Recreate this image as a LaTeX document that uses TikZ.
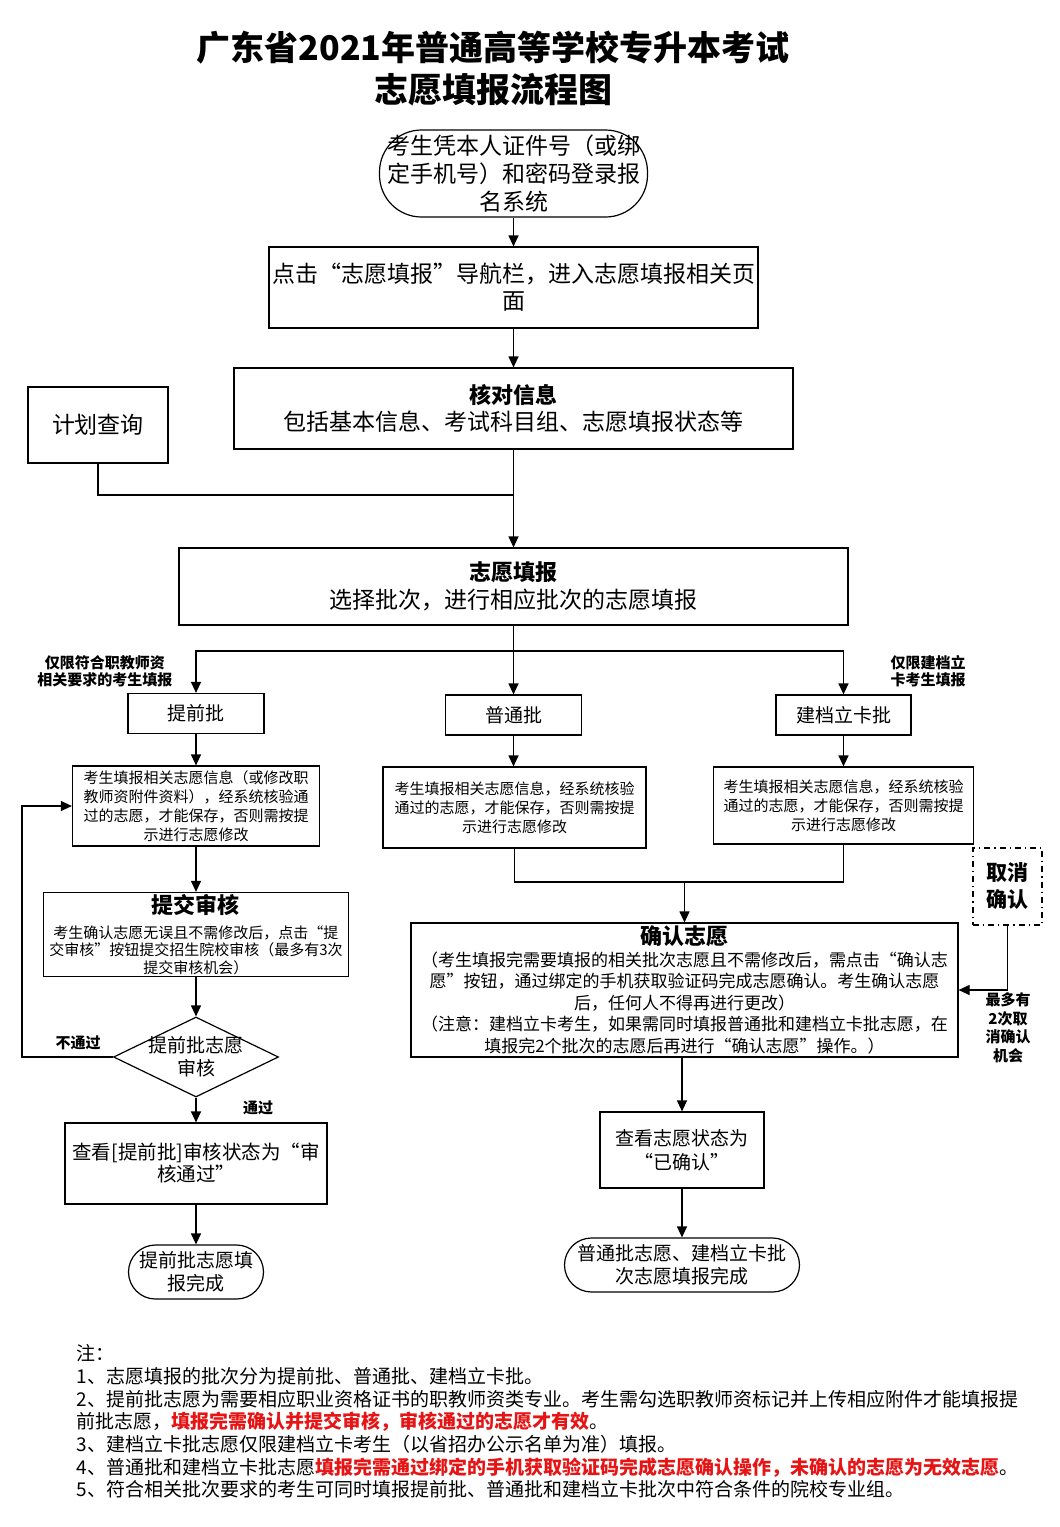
\documentclass[tikz,border=0pt]{standalone}
\usepackage{fontspec}
\setmainfont{Noto Sans CJK SC}
\usepackage{xcolor}
\usetikzlibrary{arrows.meta,shapes,positioning,calc}
\definecolor{notered}{RGB}{230,20,20}

\begin{document}
\begin{tikzpicture}[
    x=0.5pt, y=-0.5pt, line width=0.6pt,
    arr/.style={-{Triangle[length=5.5pt,width=5pt]}},
    box/.style={rectangle, draw, align=center, inner sep=1pt},
    term/.style={box, rounded corners=13.5pt},
    tag/.style={align=center, inner sep=0pt, font=\bfseries\fontsize{7.5}{8.5}\selectfont},
    info/.style={box, font=\fontsize{7.5}{9.5}\selectfont},
    batch/.style={box, minimum width=68pt, minimum height=20pt, font=\fontsize{9.5}{11.5}\selectfont}
]
    \fill[white] (0,0) rectangle (1060,1527);
    \useasboundingbox (0,0) rectangle (1060,1527);

    % title
    \node[align=center, font=\bfseries\fontsize{17}{21}\selectfont] (title) at (493,69) {广东省2021年普通高等学校专升本考试\\志愿填报流程图};

    % common steps
    \node[term, rounded corners=21pt, minimum width=134pt, minimum height=43.5pt, font=\fontsize{11.5}{14}\selectfont] (login) at (513.5,173.5) {考生凭本人证件号（或绑\\定手机号）和密码登录报\\名系统};
    \node[box, minimum width=244.5pt, minimum height=40.5pt, font=\fontsize{11.5}{13.5}\selectfont] (nav) at (513.5,287.5) {点击“志愿填报”导航栏，进入志愿填报相关页\\面};
    \node[box, minimum width=279.5pt, minimum height=40.5pt, font=\fontsize{11.5}{13.5}\selectfont] (check) at (513.5,408.5) {{\bfseries\fontsize{11}{13}\selectfont 核对信息}\\包括基本信息、考试科目组、志愿填报状态等};
    \node[box, minimum width=70pt, minimum height=38pt, font=\fontsize{11.5}{14}\selectfont] (plan) at (98,425) {计划查询};
    \node[box, minimum width=334.5pt, minimum height=38.5pt, font=\fontsize{11.5}{14}\selectfont] (fill) at (513.5,586.5) {{\bfseries\fontsize{11}{13}\selectfont 志愿填报}\\选择批次，进行相应批次的志愿填报};

    % batches
    \node[batch] (early) at (196,713.5) {提前批};
    \node[batch] (normal) at (513.5,715) {普通批};
    \node[batch, minimum width=67.5pt] (poor) at (843.5,715) {建档立卡批};
    \node[tag] (earlytag) at (105,671) {仅限符合职教师资\\相关要求的考生填报};
    \node[tag] (poortag) at (928,671) {仅限建档立\\卡考生填报};

    \node[info, minimum width=123.5pt, minimum height=40pt] (earlyinfo) at (196,806) {考生填报相关志愿信息（或修改职\\教师资附件资料），经系统核验通\\过的志愿，才能保存，否则需按提\\示进行志愿修改};
    \node[info, minimum width=131.5pt, minimum height=40.5pt] (normalinfo) at (514.5,807.5) {考生填报相关志愿信息，经系统核验\\通过的志愿，才能保存，否则需按提\\示进行志愿修改};
    \node[info, minimum width=130pt, minimum height=38.5pt] (poorinfo) at (843.5,805.5) {考生填报相关志愿信息，经系统核验\\通过的志愿，才能保存，否则需按提\\示进行志愿修改};

    % early batch
    \node[box, minimum width=152.5pt, minimum height=40.5pt, font=\fontsize{7.5}{8.75}\selectfont] (submit) at (196,934.5) {{\bfseries\fontsize{11}{13}\selectfont 提交审核}\\[3.5pt]考生确认志愿无误且不需修改后，点击“提\\交审核”按钮提交招生院校审核（最多有3次\\提交审核机会）};
    \node[diamond, draw, minimum width=82.5pt, minimum height=40pt, inner sep=0pt, label={[align=center, font=\fontsize{9.5}{11.5}\selectfont]center:{提前批志愿\\审核}}] (audit) at (196,1057) {};
    \node[box, minimum width=131pt, minimum height=40.5pt, font=\fontsize{9.75}{11}\selectfont] (earlystatus) at (196,1163.5) {查看[提前批]审核状态为“审\\核通过”};
    \node[term, minimum width=67.5pt, minimum height=27pt, font=\fontsize{9.5}{11.5}\selectfont] (earlydone) at (196,1272) {提前批志愿填\\报完成};
    \node[tag] (fail) at (78,1043) {不通过};
    \node[tag] (pass) at (258,1108) {通过};

    % normal and poor batches
    \node[box, minimum width=273.5pt, minimum height=67pt, font=\fontsize{8.5}{10.75}\selectfont] (confirm) at (684.5,990) {{\bfseries\fontsize{11}{13}\selectfont 确认志愿}\\（考生填报完需要填报的相关批次志愿且不需修改后，需点击“确认志\\愿”按钮，通过绑定的手机获取验证码完成志愿确认。考生确认志愿\\后，任何人不得再进行更改）\\（注意：建档立卡考生，如果需同时填报普通批和建档立卡批志愿，在\\填报完2个批次的志愿后再进行“确认志愿”操作。）};
    \node[box, dash dot, minimum width=34.5pt, minimum height=38.5pt, font=\bfseries\fontsize{10.5}{13.5}\selectfont] (cancel) at (1007.5,886.5) {取消\\确认};
    \node[tag, font=\bfseries\fontsize{7.5}{9.25}\selectfont] (chance) at (1008,1028) {最多有\\2次取\\消确认\\机会};
    \node[box, minimum width=82pt, minimum height=38pt, font=\fontsize{9.5}{12}\selectfont] (status) at (682,1150) {查看志愿状态为\\“已确认”};
    \node[term, minimum width=117.5pt, minimum height=27pt, font=\fontsize{9.5}{11.5}\selectfont] (done) at (682,1265) {普通批志愿、建档立卡批\\次志愿填报完成};

    % notes
    \node[anchor=north west, inner sep=0pt, align=left, font=\fontsize{9.5}{11.35}\selectfont] (notes) at (76,1344) {注：\\
        1、志愿填报的批次分为提前批、普通批、建档立卡批。\\
        2、提前批志愿为需要相应职业资格证书的职教师资类专业。考生需勾选职教师资标记并上传相应附件才能填报提\\
        前批志愿，\textcolor{notered}{\bfseries 填报完需确认并提交审核，审核通过的志愿才有效}。\\
        3、建档立卡批志愿仅限建档立卡考生（以省招办公示名单为准）填报。\\
        4、普通批和建档立卡批志愿\textcolor{notered}{\bfseries 填报完需通过绑定的手机获取验证码完成志愿确认操作，未确认的志愿为无效志愿}。\\
        5、符合相关批次要求的考生可同时填报提前批、普通批和建档立卡批次中符合条件的院校专业组。};

    \coordinate (merge) at (513.5,495);
    \coordinate (split) at (513.5,651);
    \coordinate (loop) at (22,806);
    \coordinate (join) at (684.5,882);

    \draw[arr] (login) -- (nav);
    \draw[arr] (nav) -- (check);
    \draw[arr] (check) -- (fill);
    \draw (plan) |- (merge);
    \draw (fill) -- (split);
    \draw[arr] (split) -| (early);
    \draw[arr] (split) -| (poor);
    \draw[arr] (split) -- (normal);
    \draw[arr] (early) -- (earlyinfo);
    \draw[arr] (normal) -- (normal |- normalinfo.north);
    \draw[arr] (poor) -- (poor |- poorinfo.north);
    \draw[arr] (earlyinfo) -- (submit);
    \draw[arr] (submit) -- (audit);
    \draw[arr] (audit) -- (earlystatus);
    \draw[arr] (earlystatus) -- (earlydone);
    \draw[arr] (audit.west) -| (loop) -- (earlyinfo.west);
    \draw (normalinfo.south) |- (join) -| (poorinfo.south);
    \draw[arr] (join) -- (confirm);
    \draw[arr] (cancel) |- (confirm.east);
    \draw[arr] (confirm.south -| status) -- (status);
    \draw[arr] (status) -- (done);
\end{tikzpicture}
\end{document}
